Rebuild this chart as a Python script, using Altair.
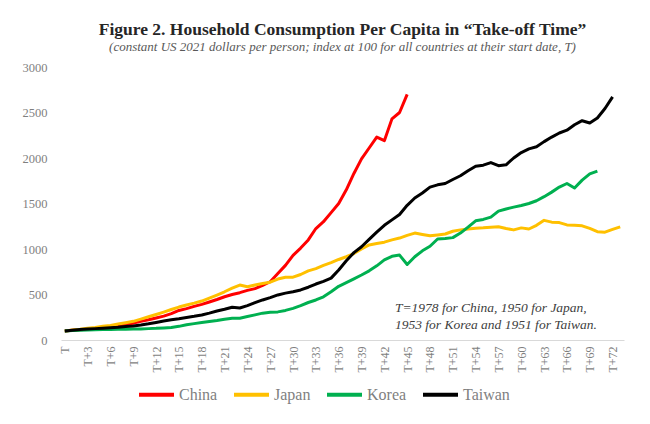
import altair as alt
import pandas as pd

countries = ["China", "Japan", "Korea", "Taiwan"]
colors = ["#FF0000", "#FFC000", "#00B050", "#000000"]

china = [100, 106, 112, 118, 126, 135, 145, 157, 170, 185,
         205, 222, 242, 262, 290, 325, 345, 370, 392, 418,
         445, 475, 500, 520, 545, 565, 600, 640, 730, 820,
         930, 1010, 1100, 1225, 1300, 1400, 1500, 1650, 1830, 1990,
         2110, 2230, 2190, 2430, 2500, 2700]

japan = [100, 110, 118, 128, 138, 150, 160, 175, 190, 205,
         230, 255, 280, 307, 335, 362, 385, 405, 428, 460,
         494, 530, 570, 604, 586, 604, 620, 635, 670, 690,
         690, 720, 760, 785, 820, 850, 885, 915, 950, 1000,
         1045, 1060, 1075, 1100, 1120, 1150, 1175, 1160, 1145, 1155,
         1165, 1195, 1210, 1220, 1228, 1233, 1240, 1244, 1225, 1210,
         1232, 1220, 1260, 1315, 1295, 1290, 1265, 1260, 1255, 1226,
         1190, 1185, 1215, 1244]

korea = [100, 104, 108, 111, 113, 115, 116, 117, 118, 120,
         122, 125, 128, 133, 138, 150, 168, 180, 192, 203,
         214, 228, 238, 240, 258, 276, 295, 305, 309, 325,
         348, 378, 412, 440, 475, 530, 590, 630, 672, 714,
         760, 815, 880, 920, 933, 830, 915, 980, 1030, 1110,
         1116, 1125, 1175, 1240, 1310, 1325, 1350, 1416, 1440, 1460,
         1478, 1500, 1530, 1575, 1625, 1680, 1720, 1670, 1757, 1825,
         1856]

taiwan = [100, 108, 115, 120, 125, 130, 135, 140, 148, 155,
          165, 178, 193, 209, 222, 234, 248, 260, 274, 295,
          318, 338, 360, 352, 378, 410, 440, 465, 495, 515,
          530, 550, 580, 615, 645, 680, 770, 870, 960, 1025,
          1105, 1185, 1260, 1320, 1380, 1480, 1560, 1615, 1680, 1705,
          1720, 1764, 1805, 1860, 1910, 1921, 1950, 1915, 1925, 2000,
          2060, 2100, 2123, 2180, 2230, 2275, 2306, 2365, 2410, 2385,
          2440, 2544, 2672]

tick_values = list(range(0, 73, 3))
y_ticks = [0, 500, 1000, 1500, 2000, 2500, 3000]

note_lines = ["T=1978 for China, 1950 for Japan,",
              "1953 for Korea and 1951 for Taiwan."]
note_t = [43.4, 43.4]
note_v = [351, 165]

rows = []
for name, vals in zip(countries, [china, japan, korea, taiwan]):
    for t, v in enumerate(vals):
        rows.append({"t": t, "value": v, "country": name})
df = pd.DataFrame(rows)
notes = pd.DataFrame({"t": note_t, "value": note_v, "text": note_lines})

FONT = "Liberation Serif"
GRAY = "#7f7f7f"

x_enc = alt.X(
    "t:Q",
    scale=alt.Scale(domain=[-0.5, 73.5], nice=False, zero=False),
    axis=alt.Axis(
        values=tick_values,
        labelExpr="datum.value == 0 ? 'T' : 'T+' + datum.value",
        labelAngle=270, labelAlign="right", labelBaseline="middle",
        ticks=False, grid=False, domainColor="#d9d9d9", domainWidth=1,
        labelColor=GRAY, labelFont=FONT, labelFontSize=12, labelPadding=6,
        labelOverlap=False, labelFlush=False, labelBound=False,
        labelSeparation=0, title=None,
    ),
)
y_enc = alt.Y(
    "value:Q",
    scale=alt.Scale(domain=[0, 3000], nice=False),
    axis=alt.Axis(
        values=y_ticks, format="d", ticks=False, domain=False, grid=False,
        labelColor=GRAY, labelFont=FONT, labelFontSize=12.5, labelPadding=14,
        title=None,
    ),
)

lines = alt.Chart(df).mark_line(strokeWidth=3, strokeJoin="round").encode(
    x=x_enc,
    y=y_enc,
    color=alt.Color(
        "country:N",
        scale=alt.Scale(domain=countries, range=colors),
        sort=countries,
        legend=alt.Legend(
            orient="none", legendX=76, legendY=308, direction="horizontal",
            title=None, symbolType="stroke", symbolSize=1225,
            symbolStrokeWidth=4, labelFont=FONT, labelFontSize=16,
            labelColor=GRAY, labelOffset=3, columnPadding=8, padding=0,
        ),
    ),
)

text = alt.Chart(notes).mark_text(
    align="left", baseline="middle", font=FONT, fontStyle="italic",
    fontSize=13.5, color="#404040",
).encode(x=x_enc, y=y_enc, text="text:N")

chart = alt.layer(lines, text).properties(
    width=563,
    height=273,
    autosize=alt.AutoSizeParams(type="none"),
    padding={"left": 53, "top": 59, "right": 15, "bottom": 80},
    background="white",
    title=alt.TitleParams(
        text="Figure 2. Household Consumption Per Capita in \u201cTake-off Time\u201d",
        subtitle="(constant US 2021 dollars per person; index at 100 for all countries at their start date, T)",
        font=FONT, fontSize=17.5, fontWeight="bold", color="#262626",
        subtitleFont=FONT, subtitleFontSize=13, subtitleFontStyle="italic",
        subtitleColor="#595959", subtitlePadding=3, anchor="middle", offset=7,
    ),
).configure_view(stroke=None)

chart.save("out.html", embed_options={"renderer": "svg", "actions": False})
